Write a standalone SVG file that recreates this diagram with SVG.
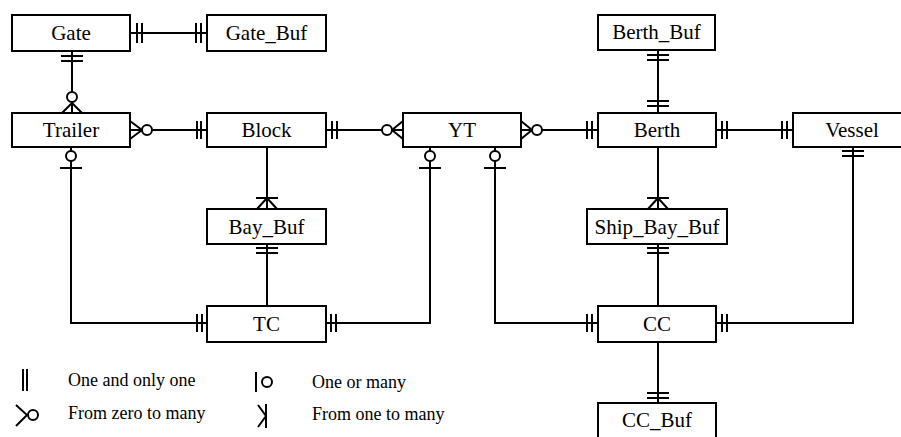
<svg xmlns="http://www.w3.org/2000/svg" width="901" height="437" viewBox="0 0 901 437">
<style>
.box{fill:#fff;stroke:#000;stroke-width:2}
.lbl{font-family:"Liberation Serif","Times New Roman",serif;font-size:21px;text-anchor:middle;fill:#000}
.leg{font-family:"Liberation Serif","Times New Roman",serif;font-size:18px;fill:#000}
.ln{fill:none;stroke:#000;stroke-width:2}
.ci{fill:#fff;stroke:#000;stroke-width:2}
</style>
<rect width="901" height="437" fill="#fff"/>
<g id="connectors" class="ln">
  <path d="M130 33H207M137 23V43M142 23V43M196 23V43M201 23V43"/>
  <path d="M72 51V113M61 56H83M61 61H83M72 103L62 113M72 103L82 113"/>
  <circle class="ci" cx="72" cy="97" r="5"/>
  <path d="M130 130H207M142 130L130 121M142 130L130 139M197 121V139M201 121V139"/>
  <circle class="ci" cx="147" cy="130" r="5"/>
  <path d="M326 130H403M332 121V139M337 121V139M392 130L403 121M392 130L403 139"/>
  <circle class="ci" cx="387" cy="130" r="5"/>
  <path d="M521 130H598M532 130L521 121M532 130L521 139M587 121V139M592 121V139"/>
  <circle class="ci" cx="537" cy="130" r="5"/>
  <path d="M716 130H793M722 121V139M727 121V139M782 121V139M787 121V139"/>
  <path d="M658 50V113M647 55H669M647 60H669M647 101H669M647 106H669"/>
  <path d="M267 147V209M256 198H278M267 198L257 209M267 198L277 209"/>
  <path d="M267 244V306M256 248H278M256 253H278"/>
  <path d="M658 147V209M647 198H669M658 198L648 209M658 198L668 209"/>
  <path d="M658 244V306M647 248H669M647 253H669"/>
  <path d="M658 342V403M647 393H669M647 398H669"/>
  <path d="M71 147V323H207M60 168H82M197 314V332M202 314V332"/>
  <circle class="ci" cx="71" cy="156" r="5"/>
  <path d="M430 147V323H326M419 168H441M331 314V332M336 314V332"/>
  <circle class="ci" cx="430" cy="156" r="5"/>
  <path d="M495 147V323H598M484 168H506M587 314V332M592 314V332"/>
  <circle class="ci" cx="495" cy="156" r="5"/>
  <path d="M853 147V323H716M842 151H864M842 156H864M722 314V332M727 314V332"/>
</g>
<g id="Gate"><rect class="box" x="12" y="15" width="118" height="36"/><text class="lbl" x="71" y="40">Gate</text></g>
<g id="Gate_Buf"><rect class="box" x="207" y="15" width="119" height="36"/><text class="lbl" x="266.5" y="40">Gate_Buf</text></g>
<g id="Trailer"><rect class="box" x="12" y="113" width="118" height="34"/><text class="lbl" x="71" y="137">Trailer</text></g>
<g id="Block"><rect class="box" x="207" y="113" width="119" height="34"/><text class="lbl" x="266.5" y="137">Block</text></g>
<g id="YT"><rect class="box" x="403" y="113" width="118" height="34"/><text class="lbl" x="462" y="137">YT</text></g>
<g id="Berth_Buf"><rect class="box" x="598" y="15" width="117" height="35"/><text class="lbl" x="656.5" y="39">Berth_Buf</text></g>
<g id="Berth"><rect class="box" x="598" y="113" width="118" height="34"/><text class="lbl" x="657" y="137">Berth</text></g>
<g id="Vessel"><rect class="box" x="793" y="113" width="118" height="34"/><text class="lbl" x="852" y="137">Vessel</text></g>
<g id="Bay_Buf"><rect class="box" x="207" y="209" width="119" height="35"/><text class="lbl" x="266.5" y="234">Bay_Buf</text></g>
<g id="Ship_Bay_Buf"><rect class="box" x="587" y="209" width="140" height="35"/><text class="lbl" x="657" y="234">Ship_Bay_Buf</text></g>
<g id="TC"><rect class="box" x="207" y="306" width="119" height="36"/><text class="lbl" x="266.5" y="331">TC</text></g>
<g id="CC"><rect class="box" x="598" y="306" width="118" height="36"/><text class="lbl" x="657" y="331">CC</text></g>
<g id="CC_Buf"><rect class="box" x="598" y="403" width="118" height="40"/><text class="lbl" x="657" y="427">CC_Buf</text></g>
<g id="legend">
  <path class="ln" d="M23 369V391M27 369V391"/>
  <path class="ln" d="M16 405L27 415L16 426"/>
  <circle class="ci" cx="33" cy="415" r="5"/>
  <path class="ln" d="M256 372V392"/>
  <circle class="ci" cx="267" cy="382" r="5"/>
  <path class="ln" d="M266 404V428M258 405L266 416L258 427"/>
  <text class="leg" x="68" y="386">One and only one</text>
  <text class="leg" x="68" y="419">From zero to many</text>
  <text class="leg" x="312" y="388">One or many</text>
  <text class="leg" x="312" y="420">From one to many</text>
</g>
</svg>
